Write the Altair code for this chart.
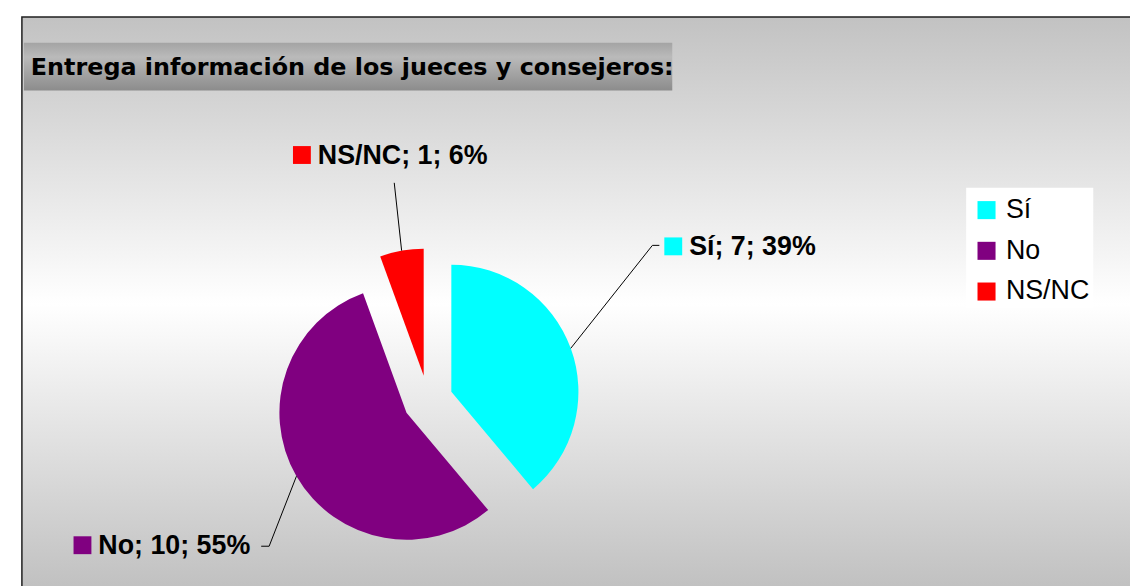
import altair as alt
import pandas as pd

# ---- data ----
categories = ["Sí", "No", "NS/NC"]
counts = [7, 10, 1]
percent_labels = ["39%", "55%", "6%"]
colors = ["#00FFFF", "#800080", "#FF0000"]
title_text = "Entrega información de los jueces y consejeros:"

# ---- layout (svg pixels) ----
W, H = 1130, 578
CX, CY, R, EXPLODE = 423, 393, 128, 25
key_x = [661, 66, 287]      # left edge of label key square
key_y = [238, 539, 146]     # vertical centre of label key square
elbow_x = [649, 263, 389]
elbow_y = [237, 540, 174]
end_x = [656, 255, 389]
end_y = [237, 540, 174]

df = pd.DataFrame({
    "cat": categories, "n": counts, "pct": percent_labels, "order": [0, 1, 2],
    "kx": key_x, "ky": key_y, "ex": elbow_x, "ey": elbow_y, "tx": end_x, "ty": end_y,
})
one = pd.DataFrame({"a": [0]})

noax = dict(scale=None, axis=None)

bg = alt.Chart(one).mark_rect(
    fill=alt.Gradient(gradient="linear", x1=0, x2=0, y1=0, y2=1,
                      stops=[alt.GradientStop(offset=0, color="#c2c2c2"),
                             alt.GradientStop(offset=0.5, color="#ffffff"),
                             alt.GradientStop(offset=1, color="#c0c0c0")]),
    stroke="#202020", strokeWidth=1.5,
).encode(x=alt.value(14), x2=alt.value(1160), y=alt.value(7), y2=alt.value(585))

title_box = alt.Chart(one).mark_rect(
    fill=alt.Gradient(gradient="linear", x1=0, x2=0, y1=0, y2=1,
                      stops=[alt.GradientStop(offset=0, color="#a4a4a4"),
                             alt.GradientStop(offset=0.3, color="#bababa"),
                             alt.GradientStop(offset=1, color="#8c8c8c")]),
).encode(x=alt.value(16), x2=alt.value(669), y=alt.value(33), y2=alt.value(81))

title = alt.Chart(one).mark_text(
    text=title_text, font="DejaVu Sans", fontWeight="bold", fontSize=24,
    align="left", baseline="alphabetic", color="black",
).encode(x=alt.value(23), y=alt.value(65))

base = (
    alt.Chart(df)
    .transform_joinaggregate(total="sum(n)")
    .transform_window(cum="sum(n)", sort=[alt.SortField("order")], frame=[None, 0])
    .transform_calculate(t0="2*PI*(datum.cum-datum.n)/datum.total")
    .transform_calculate(t1="2*PI*datum.cum/datum.total")
    .transform_calculate(mid="(datum.t0+datum.t1)/2")
    .transform_calculate(cx=f"{CX}+{EXPLODE}*sin(datum.mid)")
    .transform_calculate(cy=f"{CY}-{EXPLODE}*cos(datum.mid)")
    .transform_calculate(lx=f"datum.cx+{R}*sin(datum.mid)")
    .transform_calculate(ly=f"datum.cy-{R}*cos(datum.mid)")
    .transform_calculate(label="datum.cat + '; ' + datum.n + '; ' + datum.pct")
    .transform_calculate(kx2="datum.kx+18", ky1="datum.ky-9", ky2="datum.ky+9",
                         lblx="datum.kx+25", lbly="datum.ky+9")
)

legend_bg = alt.Chart(one).mark_rect(fill="white").encode(
    x=alt.value(965), x2=alt.value(1093), y=alt.value(179), y2=alt.value(300))

arcs = base.mark_arc(radius=128, stroke=None).encode(
    x=alt.X("cx:Q", **noax),
    y=alt.Y("cy:Q", **noax),
    theta=alt.Theta("t0:Q", scale=None),
    theta2=alt.Theta2("t1:Q"),
    color=alt.Color(
        "cat:N",
        scale=alt.Scale(domain=categories, range=colors),
        sort=categories,
        legend=alt.Legend(
            title=None, orient="none", legendX=972, legendY=188,
            symbolType="square", symbolSize=330, symbolStrokeWidth=0,
            symbolOpacity=1,
            labelFontSize=27, labelFont="Liberation Sans", labelColor="black",
            rowPadding=13, labelOffset=6, padding=0,
        ),
    ),
)

leader1 = base.mark_rule(color="black", strokeWidth=1).encode(
    x=alt.X("lx:Q", **noax), y=alt.Y("ly:Q", **noax),
    x2="ex:Q", y2="ey:Q")
leader2 = base.mark_rule(color="black", strokeWidth=1).encode(
    x=alt.X("ex:Q", **noax), y=alt.Y("ey:Q", **noax),
    x2="tx:Q", y2="ty:Q")

keys = base.mark_rect().encode(
    x=alt.X("kx:Q", **noax), x2="kx2:Q",
    y=alt.Y("ky1:Q", **noax), y2="ky2:Q",
    fill=alt.Color("cat:N", scale=alt.Scale(domain=categories, range=colors), legend=None),
)

labels = base.mark_text(
    font="Liberation Sans", fontWeight="bold", fontSize=27,
    align="left", baseline="alphabetic", color="black",
).encode(x=alt.X("lblx:Q", **noax), y=alt.Y("lbly:Q", **noax), text="label:N")

chart = alt.layer(
    bg, title_box, title, legend_bg, arcs, leader1, leader2, keys, labels
).resolve_scale(color="independent").properties(
    width=W, height=H, padding=0, autosize=alt.AutoSizeParams(type="none"),
    background="white",
).configure_view(stroke=None)

chart.save("out.html", embed_options={"renderer": "svg", "actions": False})
